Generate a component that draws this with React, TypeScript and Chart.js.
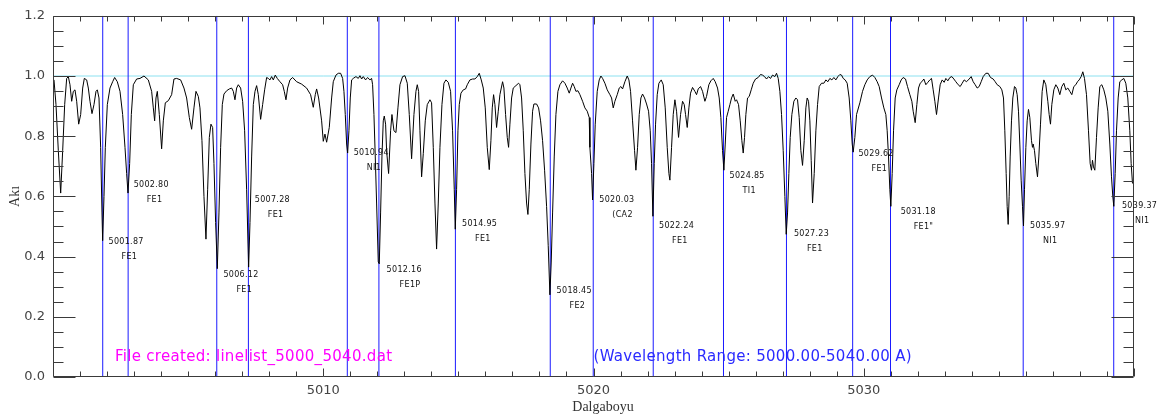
import { useEffect, useRef } from 'react';
import { Chart, registerables } from 'chart.js';

Chart.register(...registerables);

// ---- Spectrum (wavelength in Å, normalized flux) ----
const spectrum5000to5010: [number, number][] = [
  [5000.037,0.987],[5000.111,0.905],[5000.197,0.752],[5000.284,0.611],[5000.358,0.752],[5000.432,0.905],[5000.506,0.992],[5000.567,0.998],[5000.629,0.971],[5000.691,0.916],[5000.752,0.949],[5000.814,0.954],[5000.876,0.916],[5000.950,0.840],[5001.024,0.872],[5001.098,0.960],[5001.159,0.992],[5001.246,0.987],[5001.307,0.960],[5001.369,0.916],[5001.443,0.875],[5001.517,0.905],[5001.591,0.949],[5001.640,0.954],[5001.702,0.927],[5001.763,0.763],[5001.813,0.545],[5001.837,0.453],[5001.887,0.600],[5001.936,0.763],[5002.010,0.905],[5002.109,0.960],[5002.207,0.981],[5002.281,0.995],[5002.380,0.981],[5002.479,0.949],[5002.577,0.872],[5002.664,0.763],[5002.725,0.676],[5002.775,0.611],[5002.836,0.709],[5002.898,0.872],[5002.972,0.971],[5003.095,0.990],[5003.219,0.992],[5003.367,1.000],[5003.527,0.987],[5003.650,0.949],[5003.712,0.894],[5003.761,0.851],[5003.811,0.927],[5003.860,0.949],[5003.934,0.872],[5004.020,0.758],[5004.082,0.851],[5004.156,0.911],[5004.267,0.918],[5004.390,0.938],[5004.476,0.990],[5004.575,0.992],[5004.723,0.987],[5004.846,0.960],[5004.945,0.927],[5005.044,0.862],[5005.130,0.823],[5005.216,0.894],[5005.290,0.949],[5005.377,0.932],[5005.438,0.894],[5005.512,0.785],[5005.586,0.600],[5005.660,0.458],[5005.722,0.622],[5005.784,0.796],[5005.845,0.840],[5005.907,0.829],[5005.956,0.709],[5006.018,0.513],[5006.080,0.360],[5006.141,0.545],[5006.203,0.763],[5006.265,0.905],[5006.326,0.940],[5006.425,0.951],[5006.524,0.957],[5006.610,0.960],[5006.672,0.949],[5006.733,0.921],[5006.795,0.960],[5006.857,0.971],[5006.943,0.960],[5007.017,0.916],[5007.091,0.818],[5007.165,0.622],[5007.239,0.365],[5007.289,0.513],[5007.350,0.731],[5007.412,0.905],[5007.474,0.949],[5007.535,0.968],[5007.597,0.938],[5007.683,0.856],[5007.757,0.905],[5007.831,0.954],[5007.905,0.995],[5007.967,0.992],[5008.028,0.987],[5008.090,0.998],[5008.152,0.987],[5008.225,1.003],[5008.299,0.992],[5008.398,0.981],[5008.497,0.971],[5008.558,0.949],[5008.620,0.921],[5008.682,0.960],[5008.768,0.987],[5008.867,0.995],[5009.015,0.981],[5009.200,0.973],[5009.384,0.960],[5009.532,0.938],[5009.631,0.896],[5009.705,0.938],[5009.755,0.957],[5009.829,0.927],[5009.940,0.851],
];

const spectrum5010to5020: [number, number][] = [
  [5010.001,0.783],[5010.063,0.807],[5010.125,0.780],[5010.223,0.829],[5010.310,0.927],[5010.371,0.981],[5010.470,1.003],[5010.556,1.009],[5010.643,1.009],[5010.717,0.992],[5010.766,0.949],[5010.815,0.872],[5010.865,0.774],[5010.902,0.744],[5010.951,0.818],[5011.000,0.927],[5011.050,0.987],[5011.111,0.992],[5011.210,0.998],[5011.296,0.992],[5011.358,1.001],[5011.420,0.990],[5011.481,0.998],[5011.567,0.987],[5011.641,0.995],[5011.728,0.987],[5011.789,0.992],[5011.826,0.971],[5011.876,0.872],[5011.925,0.731],[5011.974,0.578],[5012.036,0.382],[5012.073,0.376],[5012.122,0.545],[5012.172,0.731],[5012.221,0.851],[5012.258,0.867],[5012.307,0.840],[5012.344,0.752],[5012.418,0.676],[5012.492,0.818],[5012.542,0.872],[5012.616,0.818],[5012.690,0.812],[5012.764,0.894],[5012.838,0.971],[5012.936,0.998],[5013.023,1.001],[5013.109,0.976],[5013.183,0.872],[5013.269,0.725],[5013.356,0.872],[5013.430,0.949],[5013.479,0.971],[5013.528,0.949],[5013.578,0.818],[5013.639,0.665],[5013.701,0.742],[5013.775,0.851],[5013.849,0.905],[5013.948,0.921],[5014.009,0.911],[5014.071,0.763],[5014.133,0.578],[5014.194,0.425],[5014.256,0.578],[5014.318,0.763],[5014.392,0.905],[5014.466,0.976],[5014.539,0.987],[5014.626,0.979],[5014.712,0.949],[5014.786,0.818],[5014.848,0.622],[5014.885,0.491],[5014.934,0.622],[5014.984,0.818],[5015.033,0.905],[5015.095,0.943],[5015.181,0.954],[5015.267,0.957],[5015.329,0.971],[5015.427,0.987],[5015.526,0.990],[5015.612,0.990],[5015.699,0.998],[5015.773,1.009],[5015.847,0.987],[5015.921,0.960],[5015.995,0.894],[5016.069,0.763],[5016.143,0.689],[5016.204,0.785],[5016.254,0.894],[5016.303,0.938],[5016.352,0.905],[5016.414,0.829],[5016.476,0.883],[5016.537,0.938],[5016.636,0.981],[5016.685,0.960],[5016.747,0.872],[5016.809,0.796],[5016.858,0.763],[5016.907,0.840],[5016.969,0.927],[5017.031,0.960],[5017.129,0.968],[5017.228,0.976],[5017.277,0.971],[5017.339,0.927],[5017.401,0.818],[5017.462,0.676],[5017.524,0.578],[5017.573,0.540],[5017.622,0.622],[5017.684,0.774],[5017.746,0.883],[5017.795,0.907],[5017.894,0.907],[5017.968,0.894],[5018.042,0.851],[5018.116,0.785],[5018.190,0.687],[5018.264,0.567],[5018.325,0.436],[5018.387,0.273],[5018.436,0.382],[5018.486,0.545],[5018.547,0.731],[5018.609,0.872],[5018.683,0.949],[5018.757,0.971],[5018.856,0.984],[5018.942,0.976],[5019.028,0.960],[5019.102,0.943],[5019.164,0.960],[5019.226,0.976],[5019.287,0.965],[5019.349,0.949],[5019.423,0.951],[5019.497,0.938],[5019.596,0.916],[5019.682,0.894],[5019.768,0.883],[5019.842,0.862],
];

const spectrum5020to5030: [number, number][] = [
  [5019.867,0.763],[5019.929,0.676],[5019.966,0.588],[5020.015,0.709],[5020.064,0.840],[5020.138,0.949],[5020.212,0.987],[5020.274,1.000],[5020.336,0.992],[5020.422,0.976],[5020.508,0.954],[5020.607,0.938],[5020.669,0.927],[5020.730,0.894],[5020.792,0.916],[5020.878,0.938],[5020.952,0.960],[5021.014,0.965],[5021.076,0.957],[5021.162,0.981],[5021.248,1.000],[5021.310,0.987],[5021.371,0.949],[5021.445,0.851],[5021.520,0.752],[5021.569,0.687],[5021.631,0.763],[5021.692,0.872],[5021.754,0.927],[5021.815,0.940],[5021.889,0.927],[5021.963,0.907],[5022.037,0.883],[5022.099,0.818],[5022.148,0.709],[5022.198,0.534],[5022.247,0.709],[5022.296,0.840],[5022.358,0.938],[5022.420,0.976],[5022.506,0.987],[5022.580,0.971],[5022.654,0.894],[5022.728,0.763],[5022.790,0.676],[5022.827,0.654],[5022.888,0.763],[5022.950,0.872],[5023.012,0.921],[5023.073,0.883],[5023.147,0.796],[5023.221,0.872],[5023.295,0.916],[5023.357,0.905],[5023.406,0.872],[5023.468,0.829],[5023.530,0.894],[5023.591,0.943],[5023.665,0.962],[5023.752,0.949],[5023.813,0.938],[5023.875,0.957],[5023.961,0.965],[5024.035,0.949],[5024.122,0.916],[5024.183,0.932],[5024.269,0.971],[5024.343,0.984],[5024.430,0.992],[5024.504,0.981],[5024.590,0.960],[5024.652,0.927],[5024.713,0.862],[5024.775,0.752],[5024.825,0.687],[5024.874,0.774],[5024.923,0.862],[5024.985,0.883],[5025.047,0.905],[5025.108,0.927],[5025.170,0.940],[5025.244,0.916],[5025.293,0.921],[5025.367,0.905],[5025.429,0.851],[5025.490,0.785],[5025.540,0.744],[5025.589,0.796],[5025.638,0.872],[5025.700,0.927],[5025.762,0.932],[5025.836,0.954],[5025.910,0.976],[5025.996,0.990],[5026.095,0.995],[5026.181,1.005],[5026.255,1.003],[5026.329,0.998],[5026.403,0.990],[5026.477,0.998],[5026.551,0.992],[5026.625,1.003],[5026.711,0.998],[5026.773,1.009],[5026.835,0.992],[5026.896,0.949],[5026.958,0.872],[5027.020,0.752],[5027.081,0.600],[5027.131,0.474],[5027.180,0.545],[5027.229,0.676],[5027.279,0.796],[5027.340,0.872],[5027.414,0.916],[5027.488,0.927],[5027.550,0.921],[5027.612,0.862],[5027.673,0.752],[5027.735,0.703],[5027.797,0.785],[5027.858,0.894],[5027.907,0.927],[5027.957,0.916],[5028.006,0.851],[5028.056,0.720],[5028.105,0.578],[5028.167,0.676],[5028.228,0.818],[5028.290,0.905],[5028.352,0.965],[5028.438,0.976],[5028.524,0.976],[5028.598,0.987],[5028.672,0.981],[5028.746,0.992],[5028.820,0.987],[5028.894,0.995],[5028.968,0.987],[5029.042,0.998],[5029.116,1.005],[5029.178,1.003],[5029.240,0.992],[5029.313,0.987],[5029.387,0.976],[5029.461,0.927],[5029.523,0.851],[5029.573,0.774],[5029.609,0.747],[5029.671,0.796],[5029.733,0.872],
];

const spectrum5030to5040: [number, number][] = [
  [5029.856,0.911],[5029.955,0.949],[5030.041,0.971],[5030.127,0.987],[5030.226,0.998],[5030.325,1.003],[5030.411,0.995],[5030.497,0.981],[5030.571,0.965],[5030.658,0.927],[5030.744,0.894],[5030.818,0.872],[5030.867,0.818],[5030.917,0.731],[5030.966,0.622],[5031.003,0.567],[5031.052,0.676],[5031.102,0.818],[5031.163,0.927],[5031.225,0.954],[5031.311,0.971],[5031.385,0.987],[5031.459,0.995],[5031.545,0.990],[5031.619,0.965],[5031.706,0.938],[5031.780,0.916],[5031.829,0.883],[5031.903,0.845],[5031.965,0.905],[5032.026,0.960],[5032.088,0.976],[5032.150,0.981],[5032.224,0.990],[5032.298,0.971],[5032.372,0.979],[5032.446,0.987],[5032.507,0.992],[5032.569,0.954],[5032.631,0.916],[5032.692,0.872],[5032.766,0.927],[5032.828,0.971],[5032.902,0.987],[5032.976,0.979],[5033.038,0.992],[5033.112,0.984],[5033.186,0.995],[5033.260,0.998],[5033.334,0.990],[5033.408,0.981],[5033.494,0.971],[5033.568,0.965],[5033.642,0.976],[5033.716,0.987],[5033.802,0.981],[5033.901,0.990],[5033.975,0.998],[5034.049,0.981],[5034.123,0.971],[5034.197,0.960],[5034.271,0.965],[5034.345,0.981],[5034.419,0.998],[5034.518,1.009],[5034.604,1.009],[5034.690,0.995],[5034.789,0.990],[5034.863,0.981],[5034.937,0.971],[5035.036,0.965],[5035.110,0.954],[5035.171,0.927],[5035.220,0.818],[5035.270,0.676],[5035.307,0.567],[5035.344,0.507],[5035.381,0.600],[5035.418,0.731],[5035.467,0.851],[5035.516,0.927],[5035.578,0.965],[5035.627,0.960],[5035.677,0.938],[5035.726,0.883],[5035.775,0.774],[5035.825,0.654],[5035.874,0.567],[5035.911,0.502],[5035.948,0.622],[5035.998,0.763],[5036.047,0.851],[5036.096,0.889],[5036.145,0.862],[5036.207,0.785],[5036.244,0.763],[5036.269,0.774],[5036.318,0.752],[5036.367,0.709],[5036.429,0.665],[5036.478,0.731],[5036.540,0.840],[5036.602,0.949],[5036.663,0.987],[5036.737,0.971],[5036.811,0.916],[5036.861,0.872],[5036.910,0.840],[5036.959,0.905],[5037.033,0.954],[5037.107,0.971],[5037.181,0.960],[5037.255,0.938],[5037.329,0.965],[5037.403,0.976],[5037.477,0.954],[5037.551,0.960],[5037.625,0.949],[5037.699,0.938],[5037.773,0.965],[5037.847,0.971],[5037.909,0.981],[5037.971,0.987],[5038.045,0.998],[5038.106,1.014],[5038.168,0.992],[5038.242,0.938],[5038.316,0.818],[5038.378,0.709],[5038.427,0.687],[5038.464,0.720],[5038.501,0.698],[5038.550,0.687],[5038.612,0.796],[5038.674,0.894],[5038.735,0.965],[5038.809,0.971],[5038.883,0.954],[5038.957,0.927],[5039.031,0.883],[5039.105,0.774],[5039.167,0.665],[5039.216,0.600],[5039.253,0.567],[5039.303,0.676],[5039.352,0.818],[5039.414,0.927],[5039.475,0.981],[5039.549,0.987],[5039.623,0.992],[5039.697,0.976],[5039.771,0.927],[5039.845,0.818],[5039.895,0.709],[5039.944,0.643],
];

// ---- Line list ----
const lineWavelengths = [5001.84, 5002.78, 5006.06, 5007.23, 5010.89, 5012.06, 5014.89, 5018.40, 5019.99, 5022.21, 5024.81, 5027.14, 5029.59, 5030.99, 5035.90, 5039.25];
const lineLabels = ['5001.87', '5002.80', '5006.12', '5007.28', '5010.94', '5012.16', '5014.95', '5018.45', '5020.03', '5022.24', '5024.85', '5027.23', '5029.62', '5031.18', '5035.97', '5039.37'];
const lineElements = ['FE1', 'FE1', 'FE1', 'FE1', 'NI1', 'FE1P', 'FE1', 'FE2', '(CA2', 'FE1', 'TI1', 'FE1', 'FE1', 'FE1"', 'NI1', 'NI1'];
const lineLabelFlux = [0.449, 0.637, 0.340, 0.589, 0.745, 0.357, 0.510, 0.287, 0.589, 0.502, 0.669, 0.477, 0.740, 0.548, 0.502, 0.570];

// ---- Axes / texts ----
const xRange = [5000, 5040];
const yRange = [0, 1.2];
const xTickLabels = [5010, 5020, 5030];
const yTickLabels = ['0.0', '0.2', '0.4', '0.6', '0.8', '1.0', '1.2'];
const continuumLevel = 1.0;
const xTitle = 'Dalgaboyu';
const yTitle = 'Akı';
const fileNote = 'File created: linelist_5000_5040.dat';
const rangeNote = '(Wavelength Range: 5000.00-5040.00 A)';

const SANS = '"DejaVu Sans", sans-serif';
const SERIF = '"Liberation Serif", serif';

const decorPlugin = {
  id: 'idlDecor',
  afterDatasetsDraw(chart: any) {
    const { ctx, chartArea, scales } = chart;
    const xs = scales.x;
    const ys = scales.y;
    const L = Math.round(chartArea.left) + 0.5;
    const R = Math.round(chartArea.right) - 0.5;
    const T = Math.round(chartArea.top) + 0.5;
    const B = Math.round(chartArea.bottom) - 0.5;
    ctx.save();
    ctx.strokeStyle = '#3a3a3a';
    ctx.lineWidth = 1;
    ctx.beginPath();
    ctx.rect(L, T, R - L, B - T);
    // x ticks (minor each 1 Å, major each 10 Å)
    for (let v = xRange[0]; v <= xRange[1]; v += 1) {
      const px = Math.round(xs.getPixelForValue(v)) + 0.5;
      const len = v % 10 === 0 ? 8 : 5;
      ctx.moveTo(px, B); ctx.lineTo(px, B - len);
      ctx.moveTo(px, T); ctx.lineTo(px, T + len);
    }
    // y ticks (minor each 0.05, major each 0.2)
    for (let i = 0; i <= 24; i++) {
      const py = Math.round(ys.getPixelForValue(i * 0.05)) + 0.5;
      const len = i % 4 === 0 ? 22 : 10;
      ctx.moveTo(L, py); ctx.lineTo(L + len, py);
      ctx.moveTo(R, py); ctx.lineTo(R - len, py);
    }
    ctx.stroke();

    // line labels
    ctx.fillStyle = '#111';
    ctx.textBaseline = 'middle';
    ctx.textAlign = 'left';
    ctx.font = `8px ${SANS}`;
    (ctx as any).letterSpacing = '0.3px';
    for (let i = 0; i < lineLabels.length; i++) {
      const nx = xs.getPixelForValue(parseFloat(lineLabels[i])) + 5;
      const ny = ys.getPixelForValue(lineLabelFlux[i]);
      ctx.fillText(lineLabels[i], nx, ny);
      ctx.fillText(lineElements[i], nx + 13, ny + 15);
    }

    // notes
    ctx.font = `15px ${SANS}`;
    (ctx as any).letterSpacing = '0.3px';
    ctx.fillStyle = '#ff00ff';
    ctx.fillText(fileNote, xs.getPixelForValue(5002.29), ys.getPixelForValue(0.065));
    ctx.fillStyle = '#2a2aff';
    ctx.fillText(rangeNote, xs.getPixelForValue(5020.0), ys.getPixelForValue(0.065));

    // x title
    (ctx as any).letterSpacing = '0px';
    ctx.font = `14px ${SERIF}`;
    ctx.fillStyle = '#333';
    ctx.textAlign = 'center';
    ctx.fillText(xTitle, (chartArea.left + chartArea.right) / 2 + 9.5, chartArea.bottom + 30.5);
    ctx.restore();
  },
};

export default function App() {
  const ref = useRef<HTMLCanvasElement>(null);

  useEffect(() => {
    const canvas = ref.current;
    if (!canvas) return;

    const spectrum = [...spectrum5000to5010, ...spectrum5010to5020, ...spectrum5020to5030, ...spectrum5030to5040]
      .map(([x, y]) => ({ x, y }));
    const markerPoints: { x: number; y: number | null }[] = [];
    lineWavelengths.forEach((w) => {
      markerPoints.push({ x: w, y: yRange[0] }, { x: w, y: yRange[1] }, { x: w, y: null });
    });

    const chart = new Chart(canvas, {
      type: 'line',
      data: {
        datasets: [
          {
            label: 'Akı',
            data: spectrum,
            borderColor: '#000000',
            borderWidth: 1,
            pointRadius: 0,
            tension: 0,
            fill: false,
          },
          {
            label: 'lines',
            data: markerPoints as any,
            borderColor: '#1a1aff',
            borderWidth: 1,
            pointRadius: 0,
            spanGaps: false,
            fill: false,
          },
          {
            label: 'continuum',
            data: [{ x: xRange[0], y: continuumLevel }, { x: xRange[1], y: continuumLevel }],
            borderColor: 'rgb(140,225,240)',
            borderWidth: 1,
            pointRadius: 0,
            fill: false,
          },
        ],
      },
      options: {
        animation: false,
        responsive: false,
        events: [],
        layout: { padding: { left: 0, top: 10, right: 42, bottom: 0 } },
        plugins: { legend: { display: false }, tooltip: { enabled: false } },
        scales: {
          x: {
            type: 'linear',
            min: xRange[0],
            max: xRange[1],
            grid: { display: false, drawTicks: false },
            border: { display: false },
            ticks: {
              stepSize: 10,
              autoSkip: false,
              maxRotation: 0,
              padding: 6,
              color: '#444',
              font: { family: SANS, size: 13 },
              callback: (v: any) => (xTickLabels.includes(Number(v)) ? String(v) : ''),
            },
            afterFit: (s: any) => { s.height = 39; },
          },
          y: {
            type: 'linear',
            min: yRange[0],
            max: yRange[1],
            grid: { display: false, drawTicks: false },
            border: { display: false },
            ticks: {
              stepSize: 0.2,
              padding: 8,
              color: '#444',
              font: { family: SANS, size: 13 },
              callback: (v: any) => yTickLabels[Math.round(Number(v) / 0.2)] ?? '',
            },
            title: {
              display: true,
              text: yTitle,
              color: '#333',
              font: { family: SERIF, size: 14 },
              padding: { top: 7, bottom: 0 },
            },
            afterFit: (s: any) => { s.width = 53; },
          },
        },
      },
      plugins: [decorPlugin],
    });

    return () => chart.destroy();
  }, []);

  return (
    <div style={{ position: 'absolute', left: 0, top: 0, width: 1176, height: 416, background: '#fff' }}>
      <canvas ref={ref} width={1176} height={416} style={{ display: 'block', width: 1176, height: 416 }} />
    </div>
  );
}
